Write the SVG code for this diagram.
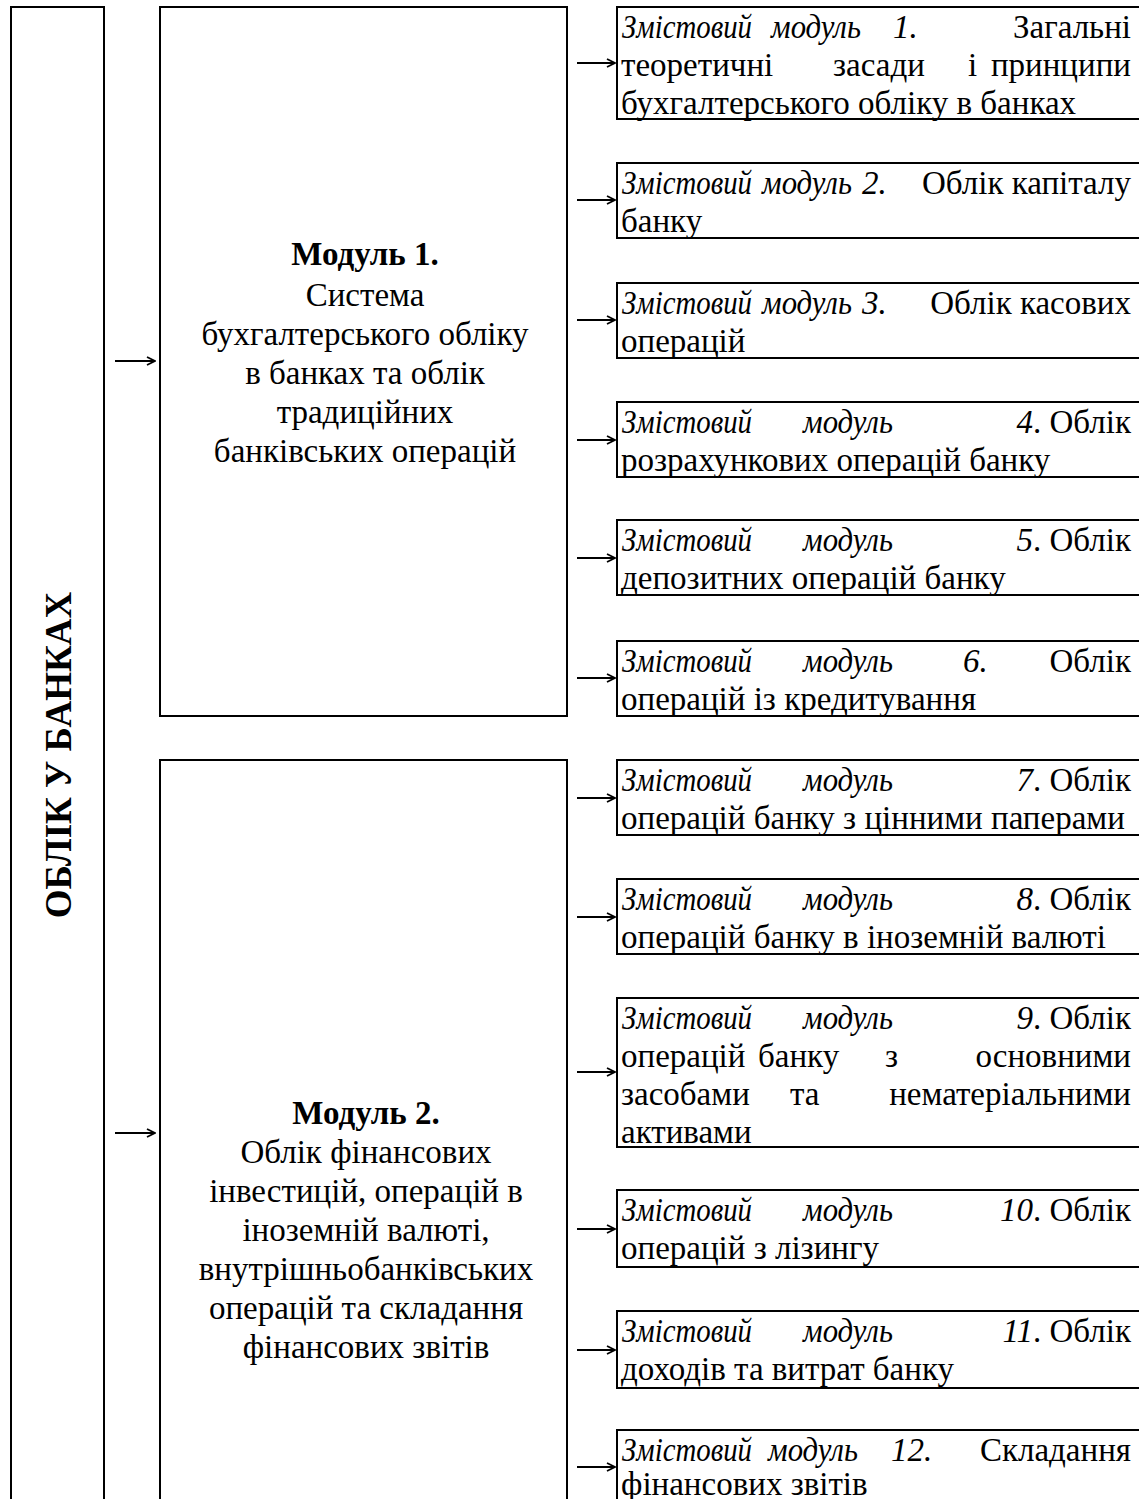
<svg xmlns="http://www.w3.org/2000/svg" width="1139" height="1499" viewBox="0 0 1139 1499">
<defs>
<style>
.box{fill:#fff;stroke:#000;stroke-width:2}
.t{font-family:"Liberation Serif","Times New Roman",serif;font-size:33px;fill:#000}
.i{font-style:italic}
.b{font-weight:bold}
.c{text-anchor:middle}
.e{text-anchor:end}
.ttl{font-size:37px}
.arr{fill:none;stroke:#000;stroke-width:2}
</style>
<marker id="ah" viewBox="0 0 10 10" refX="9" refY="5" markerWidth="10" markerHeight="10" markerUnits="userSpaceOnUse" orient="auto">
<path d="M1,1 L9,5 L1,9" fill="none" stroke="#000" stroke-width="1.8"/>
</marker>
</defs>
<rect width="1139" height="1499" fill="#fff"/>

<g id="root">
<rect class="box" x="11" y="7" width="93" height="1510"/>
<text class="t ttl b c" transform="translate(71,755) rotate(-90)">ОБЛІК У БАНКАХ</text>
</g>

<g id="module1">
<rect class="box" x="160" y="7" width="407" height="709"/>
<text class="t b c" x="365" y="265">Модуль 1.</text>
<text class="t c" x="365" y="306">Система</text>
<text class="t c" x="365" y="345">бухгалтерського обліку</text>
<text class="t c" x="365" y="384">в банках та облік</text>
<text class="t c" x="365" y="423">традиційних</text>
<text class="t c" x="365" y="462">банківських операцій</text>
</g>

<g id="module2">
<rect class="box" x="160" y="760" width="407" height="760"/>
<text class="t b c" x="366" y="1124">Модуль 2.</text>
<text class="t c" x="366" y="1163">Облік фінансових</text>
<text class="t c" x="366" y="1202">інвестицій, операцій в</text>
<text class="t c" x="366" y="1241">іноземній валюті,</text>
<text class="t c" x="366" y="1280">внутрішньобанківських</text>
<text class="t c" x="366" y="1319">операцій та складання</text>
<text class="t c" x="366" y="1358">фінансових звітів</text>
</g>

<g id="cm1">
<rect class="box" x="617" y="7" width="530" height="112"/>
<text class="t i" x="622" y="38" textLength="130" lengthAdjust="spacingAndGlyphs">Змістовий</text>
<text class="t i" x="771" y="38" textLength="90" lengthAdjust="spacingAndGlyphs">модуль</text>
<text class="t i" x="893" y="38">1.</text>
<text class="t e" x="1131" y="38">Загальні</text>
<text class="t" x="621" y="76">теоретичні</text>
<text class="t" x="833" y="76">засади</text>
<text class="t" x="968" y="76">і</text>
<text class="t e" x="1131" y="76">принципи</text>
<text class="t" x="621" y="114">бухгалтерського обліку в банках</text>
</g>

<g id="cm2">
<rect class="box" x="617" y="163" width="530" height="75"/>
<text class="t i" x="622" y="194" textLength="130" lengthAdjust="spacingAndGlyphs">Змістовий</text>
<text class="t i" x="762" y="194" textLength="90" lengthAdjust="spacingAndGlyphs">модуль</text>
<text class="t i" x="862" y="194">2.</text>
<text class="t e" x="1131" y="194">Облік капіталу</text>
<text class="t" x="621" y="232">банку</text>
</g>

<g id="cm3">
<rect class="box" x="617" y="283" width="530" height="75"/>
<text class="t i" x="622" y="314" textLength="130" lengthAdjust="spacingAndGlyphs">Змістовий</text>
<text class="t i" x="762" y="314" textLength="90" lengthAdjust="spacingAndGlyphs">модуль</text>
<text class="t i" x="862" y="314">3.</text>
<text class="t e" x="1131" y="314">Облік касових</text>
<text class="t" x="621" y="352">операцій</text>
</g>

<g id="cm4">
<rect class="box" x="617" y="402" width="530" height="75"/>
<text class="t i" x="622" y="433" textLength="130" lengthAdjust="spacingAndGlyphs">Змістовий</text>
<text class="t i" x="803" y="433" textLength="90" lengthAdjust="spacingAndGlyphs">модуль</text>
<text class="t e" x="1131" y="433"><tspan class="i">4</tspan>. Облік</text>
<text class="t" x="621" y="471">розрахункових операцій банку</text>
</g>

<g id="cm5">
<rect class="box" x="617" y="520" width="530" height="75"/>
<text class="t i" x="622" y="551" textLength="130" lengthAdjust="spacingAndGlyphs">Змістовий</text>
<text class="t i" x="803" y="551" textLength="90" lengthAdjust="spacingAndGlyphs">модуль</text>
<text class="t e" x="1131" y="551"><tspan class="i">5</tspan>. Облік</text>
<text class="t" x="621" y="589">депозитних операцій банку</text>
</g>

<g id="cm6">
<rect class="box" x="617" y="641" width="530" height="75"/>
<text class="t i" x="622" y="672" textLength="130" lengthAdjust="spacingAndGlyphs">Змістовий</text>
<text class="t i" x="803" y="672" textLength="90" lengthAdjust="spacingAndGlyphs">модуль</text>
<text class="t i" x="963" y="672">6.</text>
<text class="t e" x="1131" y="672">Облік</text>
<text class="t" x="621" y="710">операцій із кредитування</text>
</g>

<g id="cm7">
<rect class="box" x="617" y="760" width="530" height="75"/>
<text class="t i" x="622" y="791" textLength="130" lengthAdjust="spacingAndGlyphs">Змістовий</text>
<text class="t i" x="803" y="791" textLength="90" lengthAdjust="spacingAndGlyphs">модуль</text>
<text class="t e" x="1131" y="791"><tspan class="i">7</tspan>. Облік</text>
<text class="t" x="621" y="829">операцій банку з цінними паперами</text>
</g>

<g id="cm8">
<rect class="box" x="617" y="879" width="530" height="75"/>
<text class="t i" x="622" y="910" textLength="130" lengthAdjust="spacingAndGlyphs">Змістовий</text>
<text class="t i" x="803" y="910" textLength="90" lengthAdjust="spacingAndGlyphs">модуль</text>
<text class="t e" x="1131" y="910"><tspan class="i">8</tspan>. Облік</text>
<text class="t" x="621" y="948">операцій банку в іноземній валюті</text>
</g>

<g id="cm9">
<rect class="box" x="617" y="998" width="530" height="149"/>
<text class="t i" x="622" y="1029" textLength="130" lengthAdjust="spacingAndGlyphs">Змістовий</text>
<text class="t i" x="803" y="1029" textLength="90" lengthAdjust="spacingAndGlyphs">модуль</text>
<text class="t e" x="1131" y="1029"><tspan class="i">9</tspan>. Облік</text>
<text class="t" x="621" y="1067">операцій</text>
<text class="t" x="758" y="1067">банку</text>
<text class="t" x="885" y="1067">з</text>
<text class="t e" x="1131" y="1067">основними</text>
<text class="t" x="621" y="1105">засобами</text>
<text class="t" x="790" y="1105">та</text>
<text class="t e" x="1131" y="1105">нематеріальними</text>
<text class="t" x="621" y="1143">активами</text>
</g>

<g id="cm10">
<rect class="box" x="617" y="1190" width="530" height="77"/>
<text class="t i" x="622" y="1221" textLength="130" lengthAdjust="spacingAndGlyphs">Змістовий</text>
<text class="t i" x="803" y="1221" textLength="90" lengthAdjust="spacingAndGlyphs">модуль</text>
<text class="t e" x="1131" y="1221"><tspan class="i">10</tspan>. Облік</text>
<text class="t" x="621" y="1259">операцій з лізингу</text>
</g>

<g id="cm11">
<rect class="box" x="617" y="1311" width="530" height="77"/>
<text class="t i" x="622" y="1342" textLength="130" lengthAdjust="spacingAndGlyphs">Змістовий</text>
<text class="t i" x="803" y="1342" textLength="90" lengthAdjust="spacingAndGlyphs">модуль</text>
<text class="t e" x="1131" y="1342"><tspan class="i">11</tspan>. Облік</text>
<text class="t" x="621" y="1380">доходів та витрат банку</text>
</g>

<g id="cm12">
<rect class="box" x="617" y="1430" width="530" height="90"/>
<text class="t i" x="622" y="1461" textLength="130" lengthAdjust="spacingAndGlyphs">Змістовий</text>
<text class="t i" x="768" y="1461" textLength="90" lengthAdjust="spacingAndGlyphs">модуль</text>
<text class="t i" x="891" y="1461">12.</text>
<text class="t e" x="1131" y="1461">Складання</text>
<text class="t" x="621" y="1495">фінансових звітів</text>
</g>

<g id="connectors">
<path class="arr" marker-end="url(#ah)" d="M115,361 H155"/>
<path class="arr" marker-end="url(#ah)" d="M115,1133 H155"/>
<path class="arr" marker-end="url(#ah)" d="M577,63 H615"/>
<path class="arr" marker-end="url(#ah)" d="M577,200 H615"/>
<path class="arr" marker-end="url(#ah)" d="M577,320 H615"/>
<path class="arr" marker-end="url(#ah)" d="M577,440 H615"/>
<path class="arr" marker-end="url(#ah)" d="M577,558 H615"/>
<path class="arr" marker-end="url(#ah)" d="M577,678 H615"/>
<path class="arr" marker-end="url(#ah)" d="M577,798 H615"/>
<path class="arr" marker-end="url(#ah)" d="M577,917 H615"/>
<path class="arr" marker-end="url(#ah)" d="M577,1072 H615"/>
<path class="arr" marker-end="url(#ah)" d="M577,1229 H615"/>
<path class="arr" marker-end="url(#ah)" d="M577,1350 H615"/>
<path class="arr" marker-end="url(#ah)" d="M577,1467 H615"/>
</g>
</svg>
